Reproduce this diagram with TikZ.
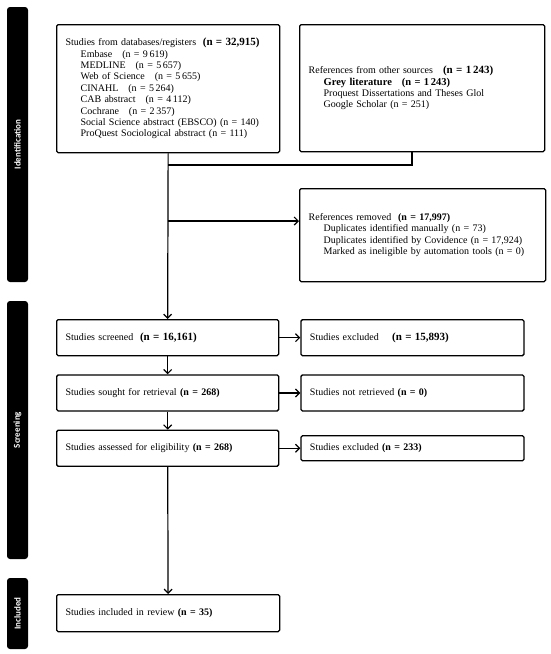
\documentclass[tikz,border=0pt]{standalone}
\usepackage{fontspec}
\setmainfont{Liberation Serif}
\newfontfamily\stagefont{Carlito}
\usepackage{tikz}
\usetikzlibrary{positioning,arrows.meta}
\newcommand{\indnt}{\hspace*{15pt}}
\newcommand{\bign}[1]{\textbf{\fontsize{11}{11.4}\selectfont #1}}
\tikzset{
  box/.style={draw=black,line width=1.3pt,rounded corners=1.5pt,inner xsep=9pt,inner ysep=3pt,align=left,anchor=north west},
  stage/.style={fill=black,text=white,rounded corners=3pt,rotate=90,inner sep=0pt,minimum height=21pt,font=\stagefont\bfseries\fontsize{9}{10}\selectfont},
  line/.style={draw=black,line width=1.2pt},
  flow/.style={-{Straight Barb[length=4pt,width=8pt,line width=1.2pt]},draw=black,line width=1.2pt}}
\begin{document}
\begin{tikzpicture}[x=1pt,y=-1pt,font=\fontsize{10}{11.4}\selectfont]
  \useasboundingbox (0,0) rectangle (550,654);
  % stage bars
  \node[stage,minimum width=275pt] (id) at (17.5,144.5) {Identification};
  \node[stage,minimum width=258pt] (scr) at (17.5,430) {Screening};
  \node[stage,minimum width=71pt] (inc) at (17.5,613.5) {Included};
  % identification
  \node[box,text width=205pt,minimum height=128pt] (db) at (56,24) {Studies from databases/registers\ \ \bign{(n = 32,915)}\\
    \indnt Embase\ \ \ (n = 9\,619)\\
    \indnt MEDLINE\ \ \ (n = 5\,657)\\
    \indnt Web of Science\ \ \ (n = 5\,655)\\
    \indnt CINAHL\ \ \ (n = 5\,264)\\
    \indnt CAB abstract\ \ \ (n = 4\,112)\\
    \indnt Cochrane\ \ \ (n = 2\,357)\\
    \indnt Social Science abstract (EBSCO) (n = 140)\\
    \indnt ProQuest Sociological abstract (n = 111)};
  \node[box,text width=227pt,minimum height=127pt] (other) at (299,24) {References from other sources\ \ \ \bign{(n = 1\,243)}\\
    \indnt\textbf{\fontsize{10.5}{11.4}\selectfont Grey literature\ \ \ (n = 1\,243)}\\
    \indnt Proquest Dissertations and Theses Glol\\
    \indnt Google Scholar (n = 251)};
  \node[box,text width=228pt,minimum height=93pt] (removed) at (299,188) {References removed\ \ \textbf{(n = 17,997)}\\
    \indnt Duplicates identified manually (n = 73)\\
    \indnt Duplicates identified by Covidence (n = 17,924)\\
    \indnt Marked as ineligible by automation tools (n = 0)};
  % screening
  \node[box,text width=204pt,minimum height=36pt] (screened) at (56,319) {Studies screened\ \ \bign{(n = 16,161)}};
  \node[box,text width=205pt,minimum height=36pt,right=21pt of screened] (excl) {Studies excluded\ \ \ \ \bign{(n = 15,893)}};
  \node[box,text width=204pt,minimum height=36pt,below=18pt of screened] (sought) {Studies sought for retrieval \textbf{(n = 268)}};
  \node[box,text width=205pt,minimum height=36pt,right=21pt of sought] (notret) {Studies not retrieved \textbf{(n = 0)}};
  \node[box,text width=204pt,minimum height=36pt,below=18pt of sought] (assessed) {Studies assessed for eligibility \textbf{(n = 268)}};
  \node[box,text width=205pt,minimum height=25pt,right=21pt of assessed] (excltwo) {Studies excluded \textbf{(n = 233)}};
  % included
  \node[box,text width=205pt,minimum height=37pt] (incl) at (56,594) {Studies included in review \textbf{(n = 35)}};
  % connectors
  \coordinate (join) at (412,165);
  \coordinate (split) at (167.5,221);
  \draw[line] (join |- other.south) -- (join) -- (join -| db.south);
  \draw[flow] (db.south) -- (screened.north);
  \draw[flow] (split) -- (split -| removed.west);
  \draw[flow] (screened) -- (excl);
  \draw[flow] (screened) -- (sought);
  \draw[flow] (sought) -- (notret);
  \draw[flow] (sought) -- (assessed);
  \draw[flow] (assessed) -- (excltwo);
  \draw[flow] (assessed) -- (incl);
\end{tikzpicture}
\end{document}
